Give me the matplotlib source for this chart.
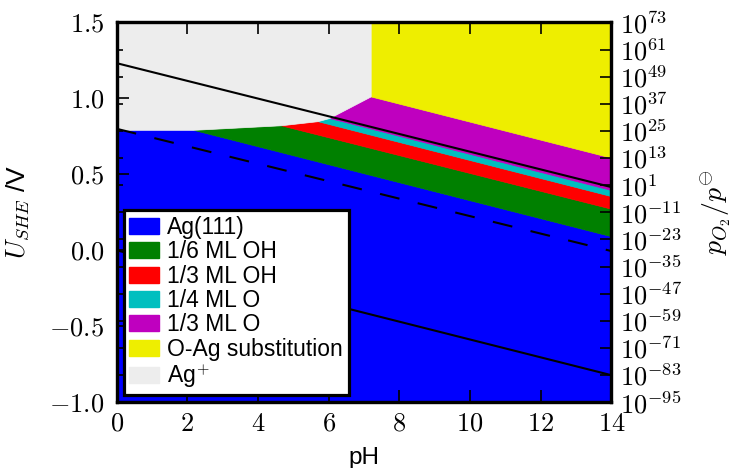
import matplotlib
matplotlib.use("Agg")
from matplotlib import pyplot as plt
from matplotlib.patches import Patch, Polygon
from matplotlib.ticker import FixedLocator

# surface phases, bottom to top, then the dissolved Ag+ region
phase_names = ["Ag(111)", "1/6 ML OH", "1/3 ML OH", "1/4 ML O", "1/3 ML O",
               "O-Ag substitution", r"Ag$^{+}$"]
phase_colors = ["#0000ff", "#008000", "#ff0000", "#00bfbf", "#bf00bf",
                "#eeee00", "#ededed"]

# boundaries between neighbouring surface phases:
# point where each meets the Ag+ region, and U at pH 14
junction_ph = [2.18, 4.66, 5.70, 6.03, 7.20]
junction_u = [0.79, 0.82, 0.847, 0.868, 1.01]
edge_u = [0.09, 0.271, 0.354, 0.394, 0.607]
ag_plus_u = 0.79

# straight reference lines, U at pH 0 and 14
line_ph = [0, 14]
o2_u = [1.232, 0.416]
h2_u = [0.0, -0.822]
dashed_u = [0.80, -0.005]

ph_ticks = [0, 2, 4, 6, 8, 10, 12, 14]
u_ticks = [-1.0, -0.5, 0.0, 0.5, 1.0, 1.5]
po2_exp = list(range(-95, 74, 12))

PH_MAX = 14
U_MIN, U_MAX = -1.0, 1.5


def defaultStyle():
    plt.rc("font", family=["Liberation Sans", "DejaVu Sans"])
    plt.rc("mathtext", fontset="cm")
    plt.rc("axes", linewidth=2.3)


def phase_polygons():
    n = len(junction_ph)
    polys = []
    # Ag(111)
    polys.append([(0, U_MIN), (PH_MAX, U_MIN), (PH_MAX, edge_u[0]),
                  (junction_ph[0], junction_u[0]), (0, ag_plus_u)])
    for i in range(1, n):
        polys.append([(junction_ph[i - 1], junction_u[i - 1]), (PH_MAX, edge_u[i - 1]),
                      (PH_MAX, edge_u[i]), (junction_ph[i], junction_u[i])])
    # O-Ag substitution
    polys.append([(junction_ph[-1], junction_u[-1]), (PH_MAX, edge_u[-1]),
                  (PH_MAX, U_MAX), (junction_ph[-1], U_MAX)])
    # Ag+
    polys.append([(0, U_MAX), (0, ag_plus_u)]
                 + list(zip(junction_ph, junction_u))
                 + [(junction_ph[-1], U_MAX)])
    return polys


defaultStyle()
fig = plt.figure(figsize=(7.34, 4.68), dpi=100)
ax = fig.add_axes([0.159, 0.1405, 0.8331 - 0.159, 0.952 - 0.1405])

for verts, c in zip(phase_polygons(), phase_colors):
    ax.add_patch(Polygon(verts, closed=True, facecolor=c, edgecolor=c, lw=0.5, zorder=1))

ax.plot(line_ph, o2_u, color="k", lw=1.5, zorder=3)
ax.plot(line_ph, h2_u, color="k", lw=1.5, zorder=3)
ax.plot(line_ph, dashed_u, color="k", lw=1.5, ls=(0, (9.6, 9)), zorder=3)

ax.set_xlim(0, PH_MAX)
ax.set_ylim(U_MIN, U_MAX)
ax.set_xticks(ph_ticks)
ax.set_xticklabels(["$%d$" % t for t in ph_ticks])
ax.set_yticks(u_ticks)
ax.set_yticklabels(["$%.1f$" % t for t in u_ticks])
ax.tick_params(axis="x", direction="in", top=True, bottom=True, length=8.6, width=1.2,
               labelsize=19, pad=7)
ax.tick_params(axis="y", direction="in", left=True, right=False, length=8.6, width=1.2,
               labelsize=19, pad=9)
ax.set_xlabel("pH", fontsize=17.5, labelpad=8)
ax.set_ylabel(r"$U_{SHE}$ /V", fontsize=19, labelpad=13)

ax2 = ax.twinx()
ax2.set_ylim(-95, 73)
ax2.set_yticks(po2_exp)
ax2.set_yticklabels(["$10^{%d}$" % e for e in po2_exp])
ax2.yaxis.set_minor_locator(FixedLocator(po2_exp))
ax2.yaxis.remove_overlapping_locs = False
ax2.tick_params(which="major", direction="in", left=False, right=True, length=8,
                width=1.2, labelsize=19, pad=6)
ax2.tick_params(which="minor", direction="in", left=True, right=False, length=4.3,
                width=1.2)
ax2.set_ylabel(r"$p_{O_2}/p^{\ominus}$", fontsize=20, labelpad=12)
for sp in ax2.spines.values():
    sp.set_linewidth(2.3)

handles = [Patch(facecolor=c, edgecolor=c, label=n) for n, c in zip(phase_names, phase_colors)]
leg = ax2.legend(handles=handles, loc="lower left", fontsize=16.5, fancybox=False,
                 framealpha=1, edgecolor="black", borderpad=0.25, labelspacing=0.06,
                 handlelength=1.3, handleheight=0.7, handletextpad=0.35,
                 borderaxespad=0.3)
leg.get_frame().set_linewidth(2.3)

fig.savefig("out.png", dpi=100)
